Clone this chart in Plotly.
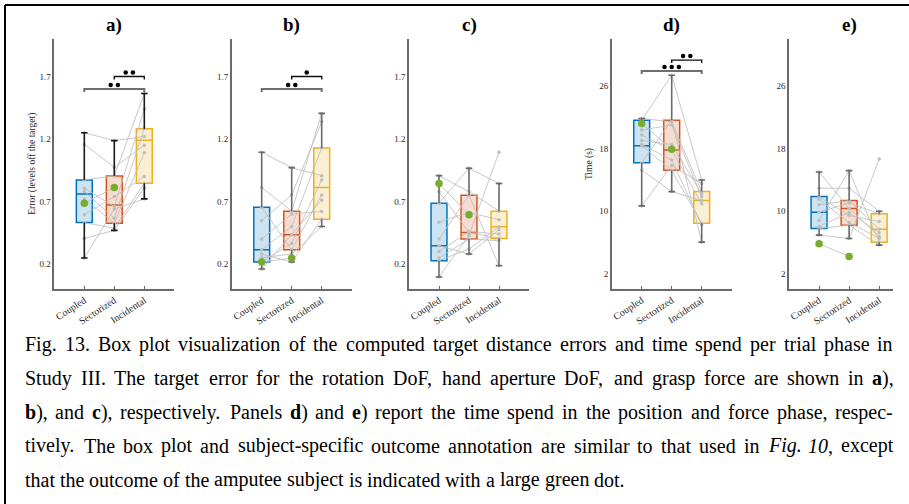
import plotly.graph_objects as go
import re

# ---------------- data ----------------
categories = ["Coupled", "Sectorized", "Incidental"]
panel_titles = ["a)", "b)", "c)", "d)", "e)"]
error_ticks = [0.2, 0.7, 1.2, 1.7]
time_ticks = [2, 10, 18, 26]

# Panel a) rotation DoF error
a_lowerfence = [0.248, 0.469, 0.721]
a_q1 = [0.532, 0.527, 0.846]
a_median = [0.761, 0.673, 1.19]
a_q3 = [0.873, 0.905, 1.282]
a_upperfence = [1.25, 1.187, 1.564]
a_coupled = [1.25, 1.157, 0.873, 0.806, 0.78, 0.72, 0.594, 0.53, 0.405, 0.248]
a_sectorized = [1.187, 0.974, 0.905, 0.66, 0.567, 0.527, 0.74, 0.487, 0.469, 0.64]
a_incidental = [1.22, 1.15, 1.564, 1.44, 1.282, 1.09, 0.90, 0.846, 0.81, 0.721]
a_amputee = [0.687, 0.812]
a_sig_from = [1, 2]
a_sig_to = [3, 3]
a_sig_level = [1.6, 1.7]
a_sig_dots = [2, 2]

# Panel b) hand aperture DoF error
b_lowerfence = [0.16, 0.216, 0.5]
b_q1 = [0.216, 0.314, 0.559]
b_median = [0.314, 0.434, 0.812]
b_q3 = [0.655, 0.623, 1.128]
b_upperfence = [1.094, 0.971, 1.405]
b_coupled = [1.094, 0.812, 0.655, 0.548, 0.314, 0.28, 0.216, 0.16, 0.25, 0.40]
b_sectorized = [0.971, 0.623, 0.314, 0.753, 0.5, 0.216, 0.367, 0.434, 0.28, 0.60]
b_incidental = [0.907, 1.405, 0.753, 1.338, 1.128, 0.559, 0.873, 0.713, 0.5, 0.62]
b_amputee = [0.216, 0.248]
b_sig_from = [1, 2]
b_sig_to = [3, 3]
b_sig_level = [1.6, 1.7]
b_sig_dots = [2, 1]

# Panel c) grasp force error
c_lowerfence = [0.096, 0.28, 0.187]
c_q1 = [0.227, 0.4, 0.405]
c_median = [0.346, 0.453, 0.498]
c_q3 = [0.687, 0.751, 0.623]
c_upperfence = [0.907, 0.966, 0.844]
c_coupled = [0.907, 0.78, 0.687, 0.535, 0.346, 0.248, 0.227, 0.096, 0.40, 0.30]
c_sectorized = [0.78, 0.453, 0.966, 0.612, 0.28, 0.4, 0.32, 0.43, 0.75, 0.46]
c_incidental = [0.623, 0.405, 0.844, 0.554, 0.474, 0.386, 0.498, 1.094, 0.187, 0.44]
c_amputee = [0.844, 0.594]
c_sig_from = []
c_sig_to = []
c_sig_level = []
c_sig_dots = []

# Panel d) time in position phase (s)
d_lowerfence = [10.64, 12.47, 6.0]
d_q1 = [16.17, 15.19, 8.43]
d_median = [18.34, 17.79, 11.32]
d_q3 = [21.6, 21.6, 12.47]
d_upperfence = [21.83, 27.36, 13.96]
d_coupled = [21.83, 21.6, 20.34, 19.7, 18.34, 16.17, 15.23, 10.64, 18.5, 19.0]
d_sectorized = [21.4, 27.36, 21.0, 17.79, 15.19, 21.6, 12.47, 15.8, 16.5, 18.5]
d_incidental = [12.47, 13.96, 11.8, 10.9, 8.43, 6.0, 11.32, 13.5, 8.2, 12.2]
d_amputee = [21.19, 17.9]
d_sig_from = [1, 2]
d_sig_to = [3, 3]
d_sig_level = [27.9, 29.3]
d_sig_dots = [3, 2]

# Panel e) time in force phase (s)
e_lowerfence = [6.9, 6.47, 5.62]
e_q1 = [7.74, 8.17, 6.0]
e_median = [9.83, 10.3, 7.66]
e_q3 = [11.83, 11.32, 9.62]
e_upperfence = [14.98, 15.15, 9.96]
e_coupled = [14.98, 12.9, 11.83, 10.77, 8.77, 7.74, 6.9, 9.83, 11.5, 8.0]
e_sectorized = [10.3, 12.9, 9.4, 11.32, 15.15, 8.17, 6.47, 11.0, 8.5, 9.8]
e_incidental = [6.72, 9.96, 8.64, 7.66, 6.0, 5.62, 16.64, 9.62, 6.5, 7.2]
e_amputee = [5.79, 4.17]
e_sig_from = []
e_sig_to = []
e_sig_level = []
e_sig_dots = []

caption_lines = [
    "Fig. 13. Box plot visualization of the computed target distance errors and time spend per trial phase in",
    "Study III. The target error for the rotation DoF, hand aperture DoF, and grasp force are shown in <b>a</b>),",
    "<b>b</b>), and <b>c</b>), respectively. Panels <b>d</b>) and <b>e</b>) report the time spend in the position and force phase, respec-",
    "tively. The box plot and subject-specific outcome annotation are similar to that used in <i>Fig.</i> <i>10</i>, except",
    "that the outcome of the amputee subject is indicated with a large green dot.",
]
caption_justified = [True, True, True, True, False]

# ---------------- styling / layout ----------------
W, H = 909, 504
SERIF = "Liberation Serif, Times New Roman, serif"
box_line = ["#0072BD", "#D95319", "#EDB120"]
box_fill = ["rgba(0,114,189,0.2)", "rgba(217,83,25,0.2)", "rgba(237,177,32,0.2)"]
green = "#77AC30"

panels = [
    dict(lf=a_lowerfence, q1=a_q1, med=a_median, q3=a_q3, uf=a_upperfence,
         subj=(a_coupled, a_sectorized, a_incidental), amp=a_amputee,
         sig=(a_sig_from, a_sig_to, a_sig_level, a_sig_dots),
         yr=[0, 2], ticks=error_ticks, ytitle="Error (levels off the target)",
         xpx=(54.3, 174.3), xr=[0, 4], wh="#1a1a1a"),
    dict(lf=b_lowerfence, q1=b_q1, med=b_median, q3=b_q3, uf=b_upperfence,
         subj=(b_coupled, b_sectorized, b_incidental), amp=b_amputee,
         sig=(b_sig_from, b_sig_to, b_sig_level, b_sig_dots),
         yr=[0, 2], ticks=error_ticks, ytitle="",
         xpx=(231.7, 351.7), xr=[0, 4], wh="#6a6a6a"),
    dict(lf=c_lowerfence, q1=c_q1, med=c_median, q3=c_q3, uf=c_upperfence,
         subj=(c_coupled, c_sectorized, c_incidental), amp=c_amputee,
         sig=(c_sig_from, c_sig_to, c_sig_level, c_sig_dots),
         yr=[0, 2], ticks=error_ticks, ytitle="",
         xpx=(409.0, 529.0), xr=[0, 4], wh="#6a6a6a"),
    dict(lf=d_lowerfence, q1=d_q1, med=d_median, q3=d_q3, uf=d_upperfence,
         subj=(d_coupled, d_sectorized, d_incidental), amp=d_amputee,
         sig=(d_sig_from, d_sig_to, d_sig_level, d_sig_dots),
         yr=[0, 32], ticks=time_ticks, ytitle="Time (s)",
         xpx=(611.7, 731.7), xr=[0, 4], wh="#6a6a6a"),
    dict(lf=e_lowerfence, q1=e_q1, med=e_median, q3=e_q3, uf=e_upperfence,
         subj=(e_coupled, e_sectorized, e_incidental), amp=e_amputee,
         sig=(e_sig_from, e_sig_to, e_sig_level, e_sig_dots),
         yr=[0, 32], ticks=time_ticks, ytitle="",
         xpx=(789.0, 892.7), xr=[0, 3.45], wh="#6a6a6a"),
]

Y_TOP, Y_BOT = 39.0, 289.0
ydom = [1 - Y_BOT / H, 1 - Y_TOP / H]
PLOT_H = Y_BOT - Y_TOP

fig = go.Figure()
annotations = []
layout_axes = {}

for i, p in enumerate(panels):
    sfx = "" if i == 0 else str(i + 1)
    xa, ya = "x" + sfx, "y" + sfx
    upp = (p["yr"][1] - p["yr"][0]) / PLOT_H  # data units per pixel
    pos = [1, 2, 3]

    # boxes (whiskers drawn separately)
    for k in range(3):
        fig.add_trace(go.Box(
            x=[pos[k]], q1=[p["q1"][k]], median=[p["med"][k]], q3=[p["q3"][k]],
            lowerfence=[p["q1"][k]], upperfence=[p["q3"][k]],
            width=0.53, whiskerwidth=0, boxpoints=False,
            fillcolor=box_fill[k], line=dict(color=box_line[k], width=1.5),
            xaxis=xa, yaxis=ya, showlegend=False, hoverinfo="skip"))

    # subject lines
    sx, sy = [], []
    c_vals, s_vals, i_vals = p["subj"]
    for j in range(len(c_vals)):
        sx += pos + [None]
        sy += [c_vals[j], s_vals[j], i_vals[j], None]
    sx += [1, 2, None]
    sy += [p["amp"][0], p["amp"][1], None]
    fig.add_trace(go.Scatter(
        x=sx, y=sy, mode="lines+markers",
        line=dict(color="rgba(190,190,190,0.85)", width=1),
        marker=dict(color="#bdbdbd", size=3.5),
        xaxis=xa, yaxis=ya, showlegend=False, hoverinfo="skip"))

    # whiskers with caps
    wx, wy = [], []
    cw = 0.11
    for k in range(3):
        x = pos[k]
        wx += [x, x, None, x, x, None, x - cw, x + cw, None, x - cw, x + cw, None]
        wy += [p["q3"][k], p["uf"][k], None, p["lf"][k], p["q1"][k], None,
               p["uf"][k], p["uf"][k], None, p["lf"][k], p["lf"][k], None]
    fig.add_trace(go.Scatter(
        x=wx, y=wy, mode="lines", line=dict(color=p["wh"], width=1.6),
        xaxis=xa, yaxis=ya, showlegend=False, hoverinfo="skip"))

    # amputee
    fig.add_trace(go.Scatter(
        x=[1, 2], y=p["amp"], mode="markers",
        marker=dict(color=green, size=7.5),
        xaxis=xa, yaxis=ya, showlegend=False, hoverinfo="skip"))

    # significance brackets
    s_from, s_to, s_lev, s_n = p["sig"]
    for j in range(len(s_from)):
        a0, a1, lev, n = s_from[j], s_to[j], s_lev[j], s_n[j]
        long_br = (a1 - a0) > 1
        drop = 3 * upp
        fig.add_trace(go.Scatter(
            x=[a0, a0, a1, a1], y=[lev - drop, lev, lev, lev - drop], mode="lines",
            line=dict(color="#6e6e6e" if long_br else "#111111", width=2 if long_br else 1.4),
            xaxis=xa, yaxis=ya, showlegend=False, hoverinfo="skip"))
        cx = (a0 + a1) / 2
        dx = [cx + (m - (n - 1) / 2) * 0.24 for m in range(n)]
        fig.add_trace(go.Scatter(
            x=dx, y=[lev + 4 * upp] * n, mode="markers",
            marker=dict(color="black", size=4.5),
            xaxis=xa, yaxis=ya, showlegend=False, hoverinfo="skip"))

    tick_text = [("%g" % t) if p["yr"][1] > 5 else ("%.1f" % t) for t in p["ticks"]]
    layout_axes["xaxis" + sfx] = dict(
        domain=[p["xpx"][0] / W, p["xpx"][1] / W], range=p["xr"], anchor=ya,
        tickvals=pos, ticktext=categories, tickangle=-33,
        tickfont=dict(family=SERIF, size=10, color="#262626"),
        showline=True, linecolor="#6a6a6a", linewidth=1.5,
        ticks="inside", ticklen=3, tickcolor="#6a6a6a", tickwidth=1,
        showgrid=False, zeroline=False, fixedrange=True)
    layout_axes["yaxis" + sfx] = dict(
        domain=ydom, range=p["yr"], anchor=xa,
        tickvals=p["ticks"], ticktext=tick_text,
        tickfont=dict(family=SERIF, size=9, color="#262626"),
        showline=True, linecolor="#6a6a6a", linewidth=1.5, ticks="",
        showgrid=False, zeroline=False, fixedrange=True)

    # panel title
    annotations.append(dict(
        text="<b>%s</b>" % panel_titles[i], xref=xa, x=2, yref="paper", y=1 - 25 / H,
        xanchor="center", yanchor="middle", showarrow=False,
        font=dict(family=SERIF, size=19, color="black")))
    if p["ytitle"]:
        annotations.append(dict(
            text=p["ytitle"], xref="paper", x=(p["xpx"][0] - 21.6) / W,
            yref="paper", y=1 - (Y_TOP + Y_BOT) / 2 / H, textangle=-90,
            xanchor="center", yanchor="middle", showarrow=False,
            font=dict(family=SERIF, size=9.5, color="#262626")))

# ---------------- caption typesetting (justified) ----------------
TNR = {" ": 250, "(": 333, ")": 333, ",": 250, "-": 333, ".": 250, ":": 278}
for ch in "0123456789":
    TNR[ch] = 500
TNR.update(dict(zip("ABCDEFGHIJKLMNOPQRSTUVWXYZ",
                    [722, 667, 667, 722, 611, 556, 722, 722, 333, 389, 722, 611, 889,
                     722, 722, 556, 722, 667, 556, 611, 722, 722, 944, 722, 722, 611])))
TNR.update(dict(zip("abcdefghijklmnopqrstuvwxyz",
                    [444, 500, 444, 500, 444, 333, 500, 500, 278, 278, 500, 278, 778,
                     500, 500, 500, 500, 333, 389, 278, 500, 500, 722, 500, 500, 444])))

CAP_FS = 20.0
CAP_LEFT, CAP_RIGHT = 25.0, 893.0
CAP_BASE0, CAP_STEP = 350.8, 33.9


def word_width(w):
    plain = re.sub(r"<[^>]+>", "", w)
    return sum(TNR.get(ch, 500) for ch in plain) / 1000.0 * CAP_FS


for li, line in enumerate(caption_lines):
    words = line.split(" ")
    widths = [word_width(w) for w in words]
    if caption_justified[li] and len(words) > 1:
        gap = (CAP_RIGHT - CAP_LEFT - sum(widths)) / (len(words) - 1)
    else:
        gap = 0.25 * CAP_FS
    base = CAP_BASE0 + li * CAP_STEP
    xcur = CAP_LEFT
    for w, wd in zip(words, widths):
        annotations.append(dict(
            text=w, xref="paper", yref="paper", x=xcur / W, y=1 - (base - 6.6) / H,
            xanchor="left", yanchor="middle", showarrow=False,
            borderpad=0, borderwidth=0,
            font=dict(family=SERIF, size=CAP_FS, color="black")))
        xcur += wd + gap

# frame (top and left)
shapes = [
    dict(type="line", xref="paper", yref="paper", x0=5 / W, x1=1, y0=1 - 5 / H, y1=1 - 5 / H,
         line=dict(color="black", width=2)),
    dict(type="line", xref="paper", yref="paper", x0=5 / W, x1=5 / W, y0=0, y1=1 - 5 / H,
         line=dict(color="black", width=2)),
]

fig.update_layout(
    width=W, height=H, margin=dict(l=0, r=0, t=0, b=0),
    paper_bgcolor="white", plot_bgcolor="white",
    showlegend=False, annotations=annotations, shapes=shapes,
    boxmode="overlay", **layout_axes)

fig.write_html("out.html")
